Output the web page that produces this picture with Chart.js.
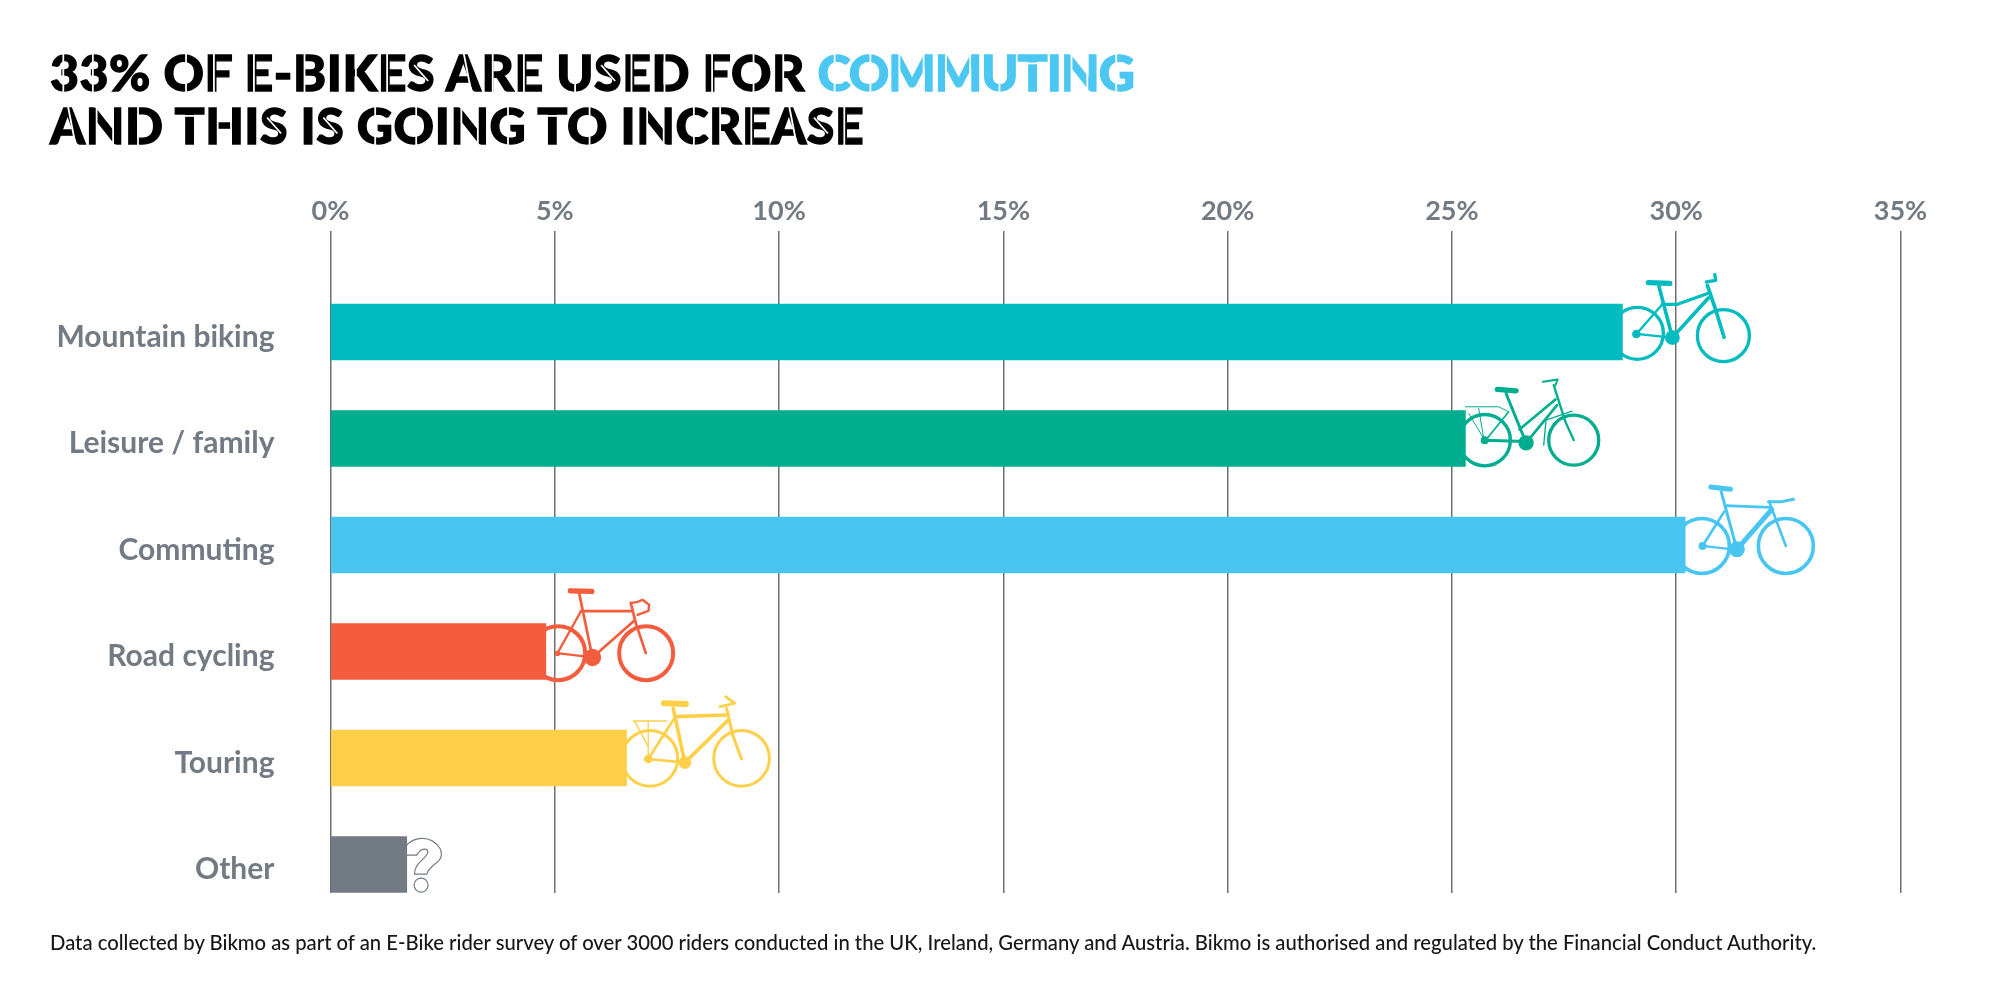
<!DOCTYPE html>
<html lang="en">
<head>
<meta charset="utf-8">
<title>E-bike use</title>
<script src="https://cdn.jsdelivr.net/npm/chart.js@4/dist/chart.umd.min.js"></script>
<style>
  html, body { margin: 0; padding: 0; background: #fff; width: 2000px; height: 1000px; overflow: hidden; }
  #wrap { position: relative; width: 2000px; height: 1000px; }
  #chart { position: absolute; left: 0; top: 0; }
  h1 { position: absolute; left: 50px; top: 46px; margin: 0; font: 900 50px/52.5px Lato, sans-serif; letter-spacing: 0.55px; color: #000; -webkit-text-stroke: 1.3px #000; white-space: nowrap; }
  h1 span { color: #4bc7f2; letter-spacing: -1px; -webkit-text-stroke: 1.3px #4bc7f2; }
  #cuts { position: absolute; left: 0; top: 0; pointer-events: none; }
  #note { position: absolute; left: 50px; top: 930px; margin: 0; font: 500 20.25px/24px Lato, sans-serif; color: #161616; white-space: nowrap; }
</style>
</head>
<body>
<div id="wrap">
  <canvas id="chart" width="2000" height="1000"></canvas>
  <h1 id="headline">33% OF E-BIKES ARE USED FOR <span>COMMUTING</span><br>AND THIS IS GOING TO INCREASE</h1>
  <canvas id="cuts" width="2000" height="170"></canvas>
  <p id="note">Data collected by Bikmo as part of an E-Bike rider survey of over 3000 riders conducted in the UK, Ireland, Germany and Austria. Bikmo is authorised and regulated by the Financial Conduct Authority.</p>
</div>
<script>
const categories = ['Mountain biking', 'Leisure / family', 'Commuting', 'Road cycling', 'Touring', 'Other'];
const shares = [28.8, 25.3, 30.2, 4.8, 6.6, 1.7];
const barColors = ['#00bbbf', '#00ad8e', '#48c5f1', '#f45c3e', '#ffcf4a', '#727b83'];
const GREY = '#727b83';

// Bicycle icons, in sketch units (three per pixel) measured from the end of the bar.
const bikes = [
  { wheels: [[45, 4, 83], [303, 11, 83]], wheelWidth: 10, dots: [[42, 6, 13], [150, 17, 22]],
    lines: [[11, [150, 17], [110, -136]], [16, [78, -148], [142, -146]], [10, [120, -83], [165, -83], [258, -116]],
            [11, [150, 17], [258, -102]], [7, [42, 6], [120, -83]], [7, [42, 6], [140, 16]],
            [11, [255, -140], [280, -66], [305, 16]], [10, [252, -150], [280, -155], [277, -172]]] },
  { wheels: [[58, 5, 82], [325, 5, 80]], wheelWidth: 10, dots: [[58, 5, 12], [182, 13, 23]],
    lines: [[9, [182, 13], [122, -135]], [16, [96, -147], [152, -143]], [8, [162, -27], [270, -117]], [8, [182, 13], [275, -100]],
            [9, [58, 5], [182, 9]], [5, [65, 0], [130, -80]], [7, [265, -160], [300, -50], [325, 5]],
            [6, [233, -170], [277, -177], [270, -160]], [3, [0, -95], [100, -95], [130, -80]],
            [3, [40, -90], [55, 0]], [3, [10, -75], [55, 0]], [4, [235, 20], [242, -55], [320, -82]]] },
  { wheels: [[50, 3, 88], [302, 3, 88]], wheelWidth: 11, dots: [[52, 3, 12], [155, 13, 24]],
    lines: [[9, [155, 13], [108, -160]], [15, [77, -174], [136, -167]], [8, [120, -118], [255, -113]], [15, [155, 13], [260, -107]],
            [8, [52, 3], [117, -100]], [7, [52, 3], [155, 15]], [8, [252, -130], [302, 3]],
            [9, [250, -130], [290, -130], [325, -137]]] },
  { wheels: [[37, 5, 87], [301, 5, 87]], wheelWidth: 12, dots: [[35, 6, 8], [140, 18, 26]],
    lines: [[8, [140, 18], [100, -175]], [16, [74, -182], [138, -180]], [8, [105, -121], [260, -121]], [8, [140, 18], [265, -92]],
            [7, [35, 5], [105, -120]], [7, [35, 5], [140, 18]], [8, [255, -145], [270, -85], [285, -40], [300, 5]],
            [7, [255, -146], [270, -147], [290, -155], [310, -140], [308, -122], [275, -110]]] },
  { wheels: [[70, 1, 88], [345, 1, 88]], wheelWidth: 9, dots: [[65, 3, 13], [175, 14, 19]],
    lines: [[11, [175, 14], [140, -149]], [18, [112, -164], [178, -162]], [11, [145, -124], [300, -129]], [11, [175, 14], [305, -114]],
            [8, [65, 3], [140, -114]], [8, [65, 3], [175, 14]], [9, [300, -149], [320, -64], [345, 3]],
            [8, [280, -154], [325, -164], [297, -184]], [4, [20, -111], [120, -111]], [4, [25, -109], [65, -34]],
            [4, [65, -109], [65, 3]]] }
];
// Outline of the question mark beside the last bar, same units.
const QUESTION_DOT = [43, 62, 21];

const bikePlugin = {
  id: 'barIcons',
  afterDatasetsDraw(chart) {
    const ctx = chart.ctx;
    const bars = chart.getDatasetMeta(0).data;
    ctx.save();
    ctx.lineCap = 'round';
    ctx.lineJoin = 'round';
    bikes.forEach((bike, i) => {
      const ox = bars[i].x, oy = bars[i].y;
      const X = u => ox + u / 3, Y = u => oy + u / 3;
      ctx.strokeStyle = ctx.fillStyle = barColors[i];
      ctx.lineWidth = bike.wheelWidth / 3;
      bike.wheels.forEach(([x, y, r]) => {
        ctx.beginPath();
        ctx.arc(X(x), Y(y), (r - bike.wheelWidth / 2) / 3, 0, Math.PI * 2);
        ctx.stroke();
      });
      bike.dots.forEach(([x, y, r]) => {
        ctx.beginPath();
        ctx.arc(X(x), Y(y), r / 3, 0, Math.PI * 2);
        ctx.fill();
      });
      bike.lines.forEach(([w, ...pts]) => {
        ctx.lineWidth = w / 3;
        ctx.beginPath();
        pts.forEach(([x, y], k) => k ? ctx.lineTo(X(x), Y(y)) : ctx.moveTo(X(x), Y(y)));
        ctx.stroke();
      });
    });

    const last = bars[bars.length - 1];
    const X = u => last.x + u / 3, Y = u => last.y + u / 3;
    ctx.strokeStyle = GREY;
    ctx.lineWidth = 1.2;
    ctx.beginPath();
    ctx.moveTo(X(0), Y(-58));
    ctx.bezierCurveTo(X(20), Y(-81), X(70), Y(-93), X(100), Y(-48));
    ctx.bezierCurveTo(X(118), Y(-5), X(70), Y(-5), X(60), Y(29));
    ctx.lineTo(X(23), Y(29));
    ctx.bezierCurveTo(X(23), Y(-8), X(63), Y(-18), X(63), Y(-38));
    ctx.bezierCurveTo(X(63), Y(-48), X(45), Y(-53), X(30), Y(-28));
    ctx.lineTo(X(0), Y(-28));
    ctx.stroke();
    ctx.beginPath();
    ctx.arc(X(QUESTION_DOT[0]), Y(QUESTION_DOT[1]), QUESTION_DOT[2] / 3, 0, Math.PI * 2);
    ctx.stroke();
    ctx.restore();
  }
};

new Chart(document.getElementById('chart'), {
  type: 'bar',
  plugins: [bikePlugin],
  data: {
    datasets: [{
      data: shares.map((v, i) => ({ x: v, y: i })),
      backgroundColor: barColors,
      barThickness: 56,
      borderWidth: 0
    }]
  },
  options: {
    indexAxis: 'y',
    responsive: false,
    animation: false,
    layout: { padding: { left: 0, right: 99.5, top: 0, bottom: 107 } },
    plugins: { legend: { display: false }, tooltip: { enabled: false }, title: { display: false } },
    scales: {
      x: {
        type: 'linear',
        position: 'top',
        min: 0,
        max: 35,
        afterFit(scale) { scale.height = 231; },
        grid: { color: '#6f6f6f', lineWidth: 1.5, drawTicks: false },
        border: { display: false },
        ticks: {
          stepSize: 5,
          maxRotation: 0,
          padding: 4,
          color: GREY,
          font: { family: 'Lato', size: 27, weight: '700' },
          callback: v => v + '%'
        }
      },
      y: {
        type: 'linear',
        reverse: true,
        offset: false,
        min: -0.948,
        max: 5.268,
        afterFit(scale) { scale.width = 330.5; },
        afterBuildTicks(scale) { scale.ticks = categories.map((_, i) => ({ value: i })); },
        grid: { display: false, drawTicks: false, offset: false },
        border: { display: false },
        ticks: {
          autoSkip: false,
          padding: 56,
          labelOffset: 5,
          color: GREY,
          font: { family: 'Lato', size: 30, weight: '700' },
          callback: v => categories[v]
        }
      }
    }
  }
});

// Stencil bridges cut through the headline letters (unit box: x across the glyph, y cap top to baseline).
const V = x => [x, 0, x, 1];
const stencil = {
  '3': [V(.45)], O: [V(.55)], C: [V(.55)], G: [V(.5)], S: [[.25, .3, .75, .7]], E: [V(.32)], F: [V(.34)], B: [V(.34)],
  D: [V(.34)], R: [V(.34)], K: [V(.38)], A: [[.5, 0, .72, 1]], N: [V(.28), V(.7)], H: [V(.32), V(.66)],
  M: [V(.24), V(.76)], U: [[.5, .6, .5, 1]], T: [[0, .26, 1, .26]]
};
const cutCtx = document.getElementById('cuts').getContext('2d');
cutCtx.strokeStyle = '#fff';
cutCtx.lineWidth = 1.8;
function cutText(node) {
  if (node.nodeType !== 3) { node.childNodes.forEach(cutText); return; }
  const range = document.createRange();
  [...node.textContent].forEach((ch, i) => {
    if (!stencil[ch]) return;
    range.setStart(node, i);
    range.setEnd(node, i + 1);
    const r = range.getBoundingClientRect();
    const mid = r.top + r.height / 2 + 1;
    stencil[ch].forEach(([x1, y1, x2, y2]) => {
      cutCtx.beginPath();
      cutCtx.moveTo(r.left + x1 * r.width, mid - 20 + y1 * 40);
      cutCtx.lineTo(r.left + x2 * r.width, mid - 20 + y2 * 40);
      cutCtx.stroke();
    });
  });
}
cutText(document.getElementById('headline'));
</script>
</body>
</html>
